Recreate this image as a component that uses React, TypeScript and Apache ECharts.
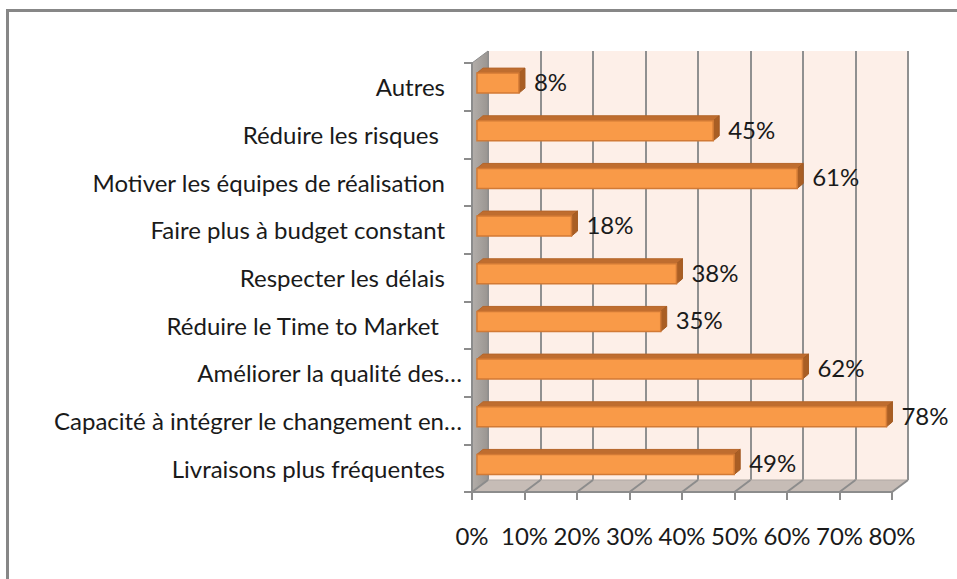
import React, { useEffect, useRef } from "react";
import * as echarts from "echarts";

const categories = [
  "Autres",
  "Réduire les risques ",
  "Motiver les équipes de réalisation",
  "Faire plus à budget constant",
  "Respecter les délais",
  "Réduire le Time to Market ",
  "Améliorer la qualité des…",
  "Capacité à intégrer le changement en…",
  "Livraisons plus fréquentes",
];
const values = [8, 45, 61, 18, 38, 35, 62, 78, 49];
const xMin = 0;
const xMax = 80;
const xInterval = 10;

const FONT = "Lato, 'Open Sans', sans-serif";
const FS = 24;
const DX = 16; // depth offset of the back wall
const DY = -12;

export default function App() {
  const ref = useRef<HTMLDivElement>(null);
  useEffect(() => {
    if (!ref.current) return;
    const chart = echarts.init(ref.current, undefined, { renderer: "svg" });
    const N = categories.length;

    const wallsRender = (params: any, api: any) => {
      const band = api.size([0, 1])[1];
      const xa = api.coord([xMin, 0])[0];
      const xb = api.coord([xMax, 0])[0];
      const yTop = api.coord([xMin, 0])[1] - band / 2;
      const yBot = api.coord([xMin, N - 1])[1] + band / 2;
      const children: any[] = [];
      children.push({
        type: "polygon",
        shape: { points: [[xa, yBot], [xa, yTop], [xa + DX, yTop + DY], [xa + DX, yBot + DY]] },
        style: {
          fill: new echarts.graphic.LinearGradient(0, 0, 1, 0, [
            { offset: 0, color: "#b3aeaa" },
            { offset: 1, color: "#9a9591" },
          ]),
          stroke: "#8c8c8c",
          lineWidth: 1,
        },
      });
      children.push({
        type: "polygon",
        shape: { points: [[xa, yBot], [xb, yBot], [xb + DX, yBot + DY], [xa + DX, yBot + DY]] },
        style: { fill: "#c6bcb6", stroke: "#b0a8a3", lineWidth: 1 },
      });
      for (let v = xMin; v <= xMax; v += xInterval) {
        const x = api.coord([v, 0])[0];
        children.push({
          type: "line",
          shape: { x1: x, y1: yBot, x2: x + DX, y2: yBot + DY },
          style: { stroke: "#8c8c8c", lineWidth: 2 },
        });
      }
      return { type: "group", children };
    };

    const barsRender = (params: any, api: any) => {
      const v = api.value(0);
      const i = api.value(1);
      const band = api.size([0, 1])[1];
      const p0 = api.coord([xMin, i]);
      const p1 = api.coord([v, i]);
      const fx = DX * 0.31;
      const fy = DY * 0.31;
      const h = band * 0.42;
      const dX = 6;
      const dY = -5;
      const x0 = p0[0] + fx;
      const x1 = p1[0] + fx;
      const yc = p0[1] + fy;
      const t = yc - h / 2;
      const b = yc + h / 2;
      return {
        type: "group",
        children: [
          {
            type: "polygon",
            shape: { points: [[x0, t], [x1, t], [x1 + dX, t + dY], [x0 + dX, t + dY]] },
            style: { fill: "#bf6d2f", stroke: "#b5652a", lineWidth: 1 },
          },
          {
            type: "polygon",
            shape: { points: [[x1, t], [x1 + dX, t + dY], [x1 + dX, b + dY], [x1, b]] },
            style: { fill: "#a95e24", stroke: "#a35a22", lineWidth: 1 },
          },
          {
            type: "rect",
            shape: { x: x0, y: t, width: x1 - x0, height: h },
            style: { fill: "#f99a48", stroke: "#d27a35", lineWidth: 1.5 },
          },
          {
            type: "text",
            style: {
              text: v + "%",
              x: x1 + dX + 9,
              y: yc + dY / 2 + 1,
              align: "left",
              verticalAlign: "middle",
              fontSize: FS,
              fontFamily: FONT,
              fill: "#1a1a1a",
            },
          },
        ],
      };
    };

    const txt = { fontSize: FS, fontFamily: FONT, color: "#1a1a1a" };

    chart.setOption({
      animation: false,
      backgroundColor: "#ffffff",
      graphic: [
        {
          type: "line",
          shape: { x1: 7.5, y1: 9, x2: 7.5, y2: 579 },
          style: { stroke: "#878787", lineWidth: 3 },
        },
        {
          type: "line",
          shape: { x1: 6, y1: 10.5, x2: 957, y2: 10.5 },
          style: { stroke: "#878787", lineWidth: 3 },
        },
      ],
      grid: [
        { left: 472, right: 65, top: 63, bottom: 87, containLabel: false },
        {
          left: 472 + DX,
          right: 65 - DX,
          top: 63 + DY,
          bottom: 87 - DY,
          show: true,
          backgroundColor: "#fdefe8",
          borderWidth: 0,
          z: 0,
        },
      ],
      xAxis: [
        {
          type: "value",
          gridIndex: 0,
          min: xMin,
          max: xMax,
          interval: xInterval,
          z: 5,
          axisLine: { show: true, lineStyle: { color: "#8c8c8c", width: 2 } },
          axisTick: { show: true, length: 8, lineStyle: { color: "#8c8c8c", width: 2 } },
          splitLine: { show: false },
          axisLabel: { formatter: "{value}%", ...txt, margin: 31 },
        },
        {
          type: "value",
          gridIndex: 1,
          min: xMin,
          max: xMax,
          interval: xInterval,
          axisLine: { show: false },
          axisTick: { show: false },
          axisLabel: { show: false },
          splitLine: { show: true, lineStyle: { color: "#909090", width: 2 } },
        },
      ],
      yAxis: [
        {
          type: "category",
          gridIndex: 0,
          data: categories,
          inverse: true,
          z: 5,
          axisLine: { show: true, lineStyle: { color: "#8c8c8c", width: 2 } },
          axisTick: { show: true, length: 8, lineStyle: { color: "#8c8c8c", width: 2 } },
          axisLabel: {
            ...txt,
            margin: 10,
            formatter: (s: string) =>
              s.endsWith("…") ? `{n|${s}}` : `{n|${s}}{s| }`,
            rich: {
              n: { ...txt },
              s: { ...txt, width: 17 },
            },
          },
        },
        {
          type: "value",
          gridIndex: 1,
          show: false,
          splitLine: { show: false },
        },
      ],
      series: [
        {
          type: "custom",
          name: "walls",
          xAxisIndex: 0,
          yAxisIndex: 0,
          z: 1,
          silent: true,
          data: [[xMin, 0]],
          renderItem: wallsRender,
        },
        {
          type: "custom",
          name: "bars",
          xAxisIndex: 0,
          yAxisIndex: 0,
          z: 3,
          data: values.map((v, i) => [v, i]),
          encode: { x: 0, y: 1 },
          renderItem: barsRender,
        },
      ],
    });
    return () => chart.dispose();
  }, []);
  return (
    <div
      ref={ref}
      style={{ position: "absolute", left: 0, top: 0, width: 957, height: 579 }}
    />
  );
}
